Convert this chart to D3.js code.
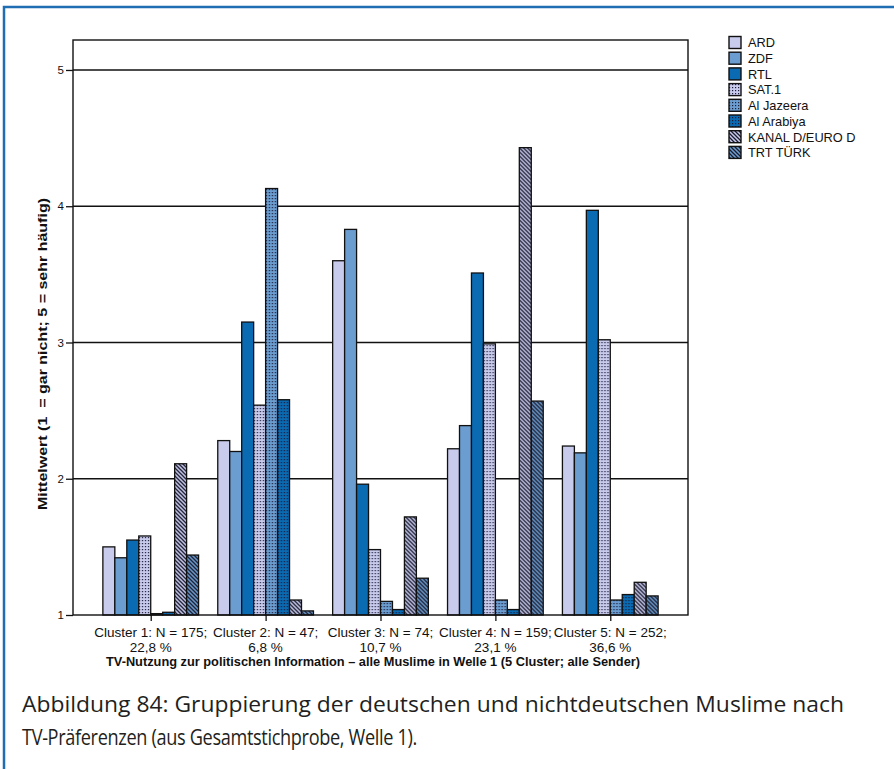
<!DOCTYPE html>
<html>
<head>
<meta charset="utf-8">
<script src="https://cdn.jsdelivr.net/npm/d3@7"></script>
<style>
  html, body { margin: 0; padding: 0; background: #fff; }
  svg { display: block; }
  text { white-space: pre; }
</style>
</head>
<body>
<svg id="chart" width="894" height="769"></svg>
<script>
// ---- data ----
const clusterLine1 = ["Cluster 1: N = 175;", "Cluster 2: N = 47;", "Cluster 3: N = 74;", "Cluster 4: N = 159;", "Cluster 5: N = 252;"];
const clusterLine2 = ["22,8 %", "6,8 %", "10,7 %", "23,1 %", "36,6 %"];
const seriesNames = ["ARD", "ZDF", "RTL", "SAT.1", "Al Jazeera", "Al Arabiya", "KANAL D/EURO D", "TRT TÜRK"];
const ard       = [1.50, 2.28, 3.60, 2.22, 2.24];
const zdf       = [1.42, 2.20, 3.83, 2.39, 2.19];
const rtl       = [1.55, 3.15, 1.96, 3.51, 3.97];
const sat1      = [1.58, 2.54, 1.48, 2.99, 3.02];
const alJazeera = [1.01, 4.13, 1.10, 1.11, 1.11];
const alArabiya = [1.02, 2.58, 1.04, 1.04, 1.15];
const kanalD    = [2.11, 1.11, 1.72, 4.43, 1.24];
const trtTurk   = [1.44, 1.03, 1.27, 2.57, 1.14];
const yTicks = [1, 2, 3, 4, 5];
const yTitle = "Mittelwert (1  = gar nicht; 5 = sehr häufig)";
const xTitle = "TV-Nutzung zur politischen Information – alle Muslime in Welle 1 (5 Cluster; alle Sender)";
const captionLines = ["Abbildung 84: Gruppierung der deutschen und nichtdeutschen Muslime nach", "TV-Präferenzen (aus Gesamtstichprobe, Welle 1)."];

const seriesValues = [ard, zdf, rtl, sat1, alJazeera, alArabiya, kanalD, trtTurk];

// ---- styles ----
const cLav = "#c9cbed", cMid = "#6b9dd0", cDark = "#0a6ab2";
const baseColors = [cLav, cMid, cDark, cLav, cMid, cDark, cLav, cMid];
const patternType = ["solid", "solid", "solid", "dots", "dots", "dots", "hatch", "hatch"];

const svg = d3.select("#chart");
const defs = svg.append("defs");
seriesNames.forEach((s, i) => {
  if (patternType[i] === "dots") {
    const p = defs.append("pattern").attr("id", "pat" + i)
      .attr("patternUnits", "userSpaceOnUse").attr("width", 3).attr("height", 3);
    p.append("rect").attr("width", 3).attr("height", 3).attr("fill", baseColors[i]);
    p.append("rect").attr("x", 0).attr("y", 0).attr("width", 1.2).attr("height", 1.2).attr("fill", "#1b1b3a");
  } else if (patternType[i] === "hatch") {
    const p = defs.append("pattern").attr("id", "pat" + i)
      .attr("patternUnits", "userSpaceOnUse").attr("width", 4).attr("height", 4);
    p.append("rect").attr("width", 4).attr("height", 4).attr("fill", baseColors[i]);
    p.append("path").attr("d", "M0,0 L4,4 M-1,3 L1,5 M3,-1 L5,1")
      .attr("stroke", "#1b1b2e").attr("stroke-width", 1.3);
  }
});
const fillFor = i => patternType[i] === "solid" ? baseColors[i] : `url(#pat${i})`;

// ---- outer frame ----
svg.append("path").attr("d", "M4,769 L4,7 L894,7")
  .attr("fill", "none").attr("stroke", "#1f6eb3").attr("stroke-width", 2.5);

// ---- scales ----
const plotL = 73, plotR = 688, plotT = 40, plotB = 615;
const x0 = d3.scaleBand().domain(d3.range(clusterLine1.length)).range([plotL, plotR])
  .paddingInner(0.167).paddingOuter(0.26);
const x1 = d3.scaleBand().domain(d3.range(seriesNames.length)).range([0, x0.bandwidth()]);
const y = d3.scaleLinear().domain([1, 5.22]).range([plotB, plotT]);

const font = "'Liberation Sans', Arial, sans-serif";

// gridlines
const g = svg.append("g");
g.selectAll("line.grid").data(yTicks.filter(t => t > 1)).enter().append("line")
  .attr("x1", plotL).attr("x2", plotR).attr("y1", d => y(d)).attr("y2", d => y(d))
  .attr("stroke", "#111").attr("stroke-width", 1.3);

// bars
const groups = g.selectAll("g.cluster").data(d3.range(clusterLine1.length)).enter().append("g")
  .attr("transform", c => `translate(${x0(c)},0)`);
groups.selectAll("rect").data(c => seriesValues.map((vals, i) => ({ i, v: vals[c] }))).enter().append("rect")
  .attr("x", d => x1(d.i)).attr("width", x1.bandwidth())
  .attr("y", d => y(d.v)).attr("height", d => y(1) - y(d.v))
  .attr("fill", d => fillFor(d.i)).attr("stroke", "#111").attr("stroke-width", 1.3);

// plot frame
svg.append("rect").attr("x", plotL).attr("y", plotT).attr("width", plotR - plotL).attr("height", plotB - plotT)
  .attr("fill", "none").attr("stroke", "#111").attr("stroke-width", 1.4);

// y axis
const yAxis = d3.axisLeft(y).tickValues(yTicks).tickSize(7).tickPadding(2).tickFormat(d3.format("d"));
const ya = svg.append("g").attr("transform", `translate(${plotL},0)`).call(yAxis);
ya.select(".domain").remove();
ya.selectAll("line").attr("stroke", "#111").attr("stroke-width", 1.3);
ya.selectAll("text").attr("font-family", font).attr("font-size", 11.5).attr("fill", "#111");

// x axis ticks
const xa = d3.axisBottom(d3.scalePoint().domain(d3.range(clusterLine1.length))
  .range([x0(0) + x0.bandwidth() / 2, x0(clusterLine1.length - 1) + x0.bandwidth() / 2]))
  .tickSize(6).tickFormat("");
const xg = svg.append("g").attr("transform", `translate(0,${plotB})`).call(xa);
xg.select(".domain").remove();
xg.selectAll("line").attr("stroke", "#111").attr("stroke-width", 1.3);

// x labels
const xl = svg.append("g").attr("font-family", font).attr("font-size", 13.5).attr("fill", "#111").attr("text-anchor", "middle");
clusterLine1.forEach((t, c) => {
  const cx = x0(c) + x0.bandwidth() / 2;
  xl.append("text").attr("x", cx).attr("y", 637).text(t);
  xl.append("text").attr("x", cx).attr("y", 652).text(clusterLine2[c]);
});

// axis titles
svg.append("text").attr("x", 106).attr("y", 666)
  .attr("font-family", font).attr("font-size", 12).attr("font-weight", "bold").attr("fill", "#111")
  .attr("textLength", 534).attr("lengthAdjust", "spacingAndGlyphs")
  .text(xTitle);
svg.append("text").attr("transform", "translate(47,510) rotate(-90)")
  .attr("font-family", font).attr("font-size", 12.5).attr("font-weight", "bold").attr("fill", "#111")
  .attr("textLength", 312).attr("lengthAdjust", "spacingAndGlyphs")
  .text(yTitle);

// legend
const lg = svg.append("g").attr("font-family", font).attr("font-size", 12.8).attr("fill", "#111");
seriesNames.forEach((s, i) => {
  const yy = 42.5 + i * 15.7;
  lg.append("rect").attr("x", 729).attr("y", yy - 6).attr("width", 12).attr("height", 12)
    .attr("fill", fillFor(i)).attr("stroke", "#111").attr("stroke-width", 1.4);
  lg.append("text").attr("x", 748).attr("y", yy + 4.8).text(s);
});

// caption
const cap = svg.append("g").attr("font-family", "'Open Sans', 'Noto Sans', sans-serif").attr("font-size", 21.5).attr("fill", "#231f20");
cap.append("text").attr("x", 22).attr("y", 712).attr("textLength", 822).attr("lengthAdjust", "spacingAndGlyphs").text(captionLines[0]);
cap.append("text").attr("x", 22).attr("y", 745).attr("textLength", 395).attr("lengthAdjust", "spacingAndGlyphs").attr("letter-spacing", -0.4).text(captionLines[1]);
</script>
</body>
</html>
